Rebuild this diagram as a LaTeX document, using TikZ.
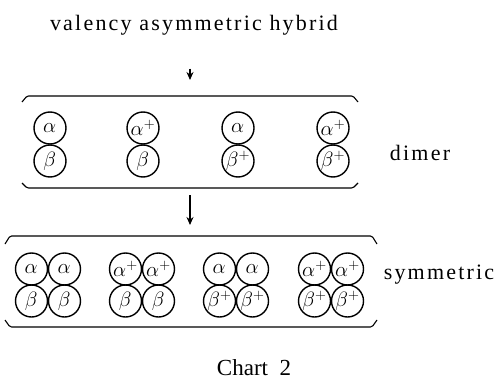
\documentclass[tikz,border=0pt]{standalone}
\usepackage{fontspec}
\setmainfont{Liberation Serif}
\usetikzlibrary{arrows.meta}
\newfontfamily\wideface[LetterSpace=10]{Liberation Serif}

\tikzset{
  sub/.style={draw, circle, minimum size=32pt, inner sep=0pt, line width=1.4pt,
    font=\fontsize{22}{22}\selectfont},
  lid/.style={line width=1.1pt, rounded corners=1.5pt},
  arr/.style={line width=1.4pt, -{Stealth[length=8pt, width=7pt]}},
  word/.style={font=\wideface\fontsize{22}{22}\selectfont},
}

\begin{document}
\begin{tikzpicture}[x=1pt, y=-1pt]
  \useasboundingbox (0,0) rectangle (502,382);

  \node[word] (title) at (194,25) {valency asymmetric hybrid};

  % dimer row
  \draw[lid] (22,102) -- (27,96) -- (353,96) -- (358,102);
  \draw[lid] (22,183) -- (27,188) -- (353,188) -- (358,183);
  \coordinate (dtop) at (190,96);
  \coordinate (dbot) at (190,188);
  \foreach \x/\a/\b [count=\i] in {50/{}/{}, 143/{+}/{}, 238/{}/{+}, 333/{+}/{+}} {
    \node[sub] (da\i) at (\x,128) {$\alpha^{\a}$};
    \node[sub] (db\i) at (\x,161) {$\beta^{\b}$};
  }
  \node[word] (dimer) at (420,153) {dimer};

  % tetramer row
  \draw[lid] (5,244) -- (10,236) -- (372,236) -- (377,244);
  \draw[lid] (5,320) -- (10,327) -- (372,327) -- (377,320);
  \coordinate (ttop) at (190,236);
  \foreach \x/\a/\b [count=\i] in {48/{}/{}, 142/{+}/{}, 236/{}/{+}, 331/{+}/{+}} {
    \node[sub] (tal\i) at (\x-16.5,269) {$\alpha^{\a}$};
    \node[sub] (tar\i) at (\x+16.5,269) {$\alpha^{\a}$};
    \node[sub] (tbl\i) at (\x-16.5,301) {$\beta^{\b}$};
    \node[sub] (tbr\i) at (\x+16.5,301) {$\beta^{\b}$};
  }
  \node[word] (sym) at (439,275) {symmetric};

  \draw[arr, shorten <=30pt, shorten >=16pt] (title.south -| dtop) -- (dtop);
  \draw[arr, shorten <=7pt, shorten >=11pt] (dbot) -- (ttop);

  \node[font=\fontsize{23}{23}\selectfont, inner sep=1pt] (chart) at (254,368) {Chart\ \ 2};
\end{tikzpicture}
\end{document}
